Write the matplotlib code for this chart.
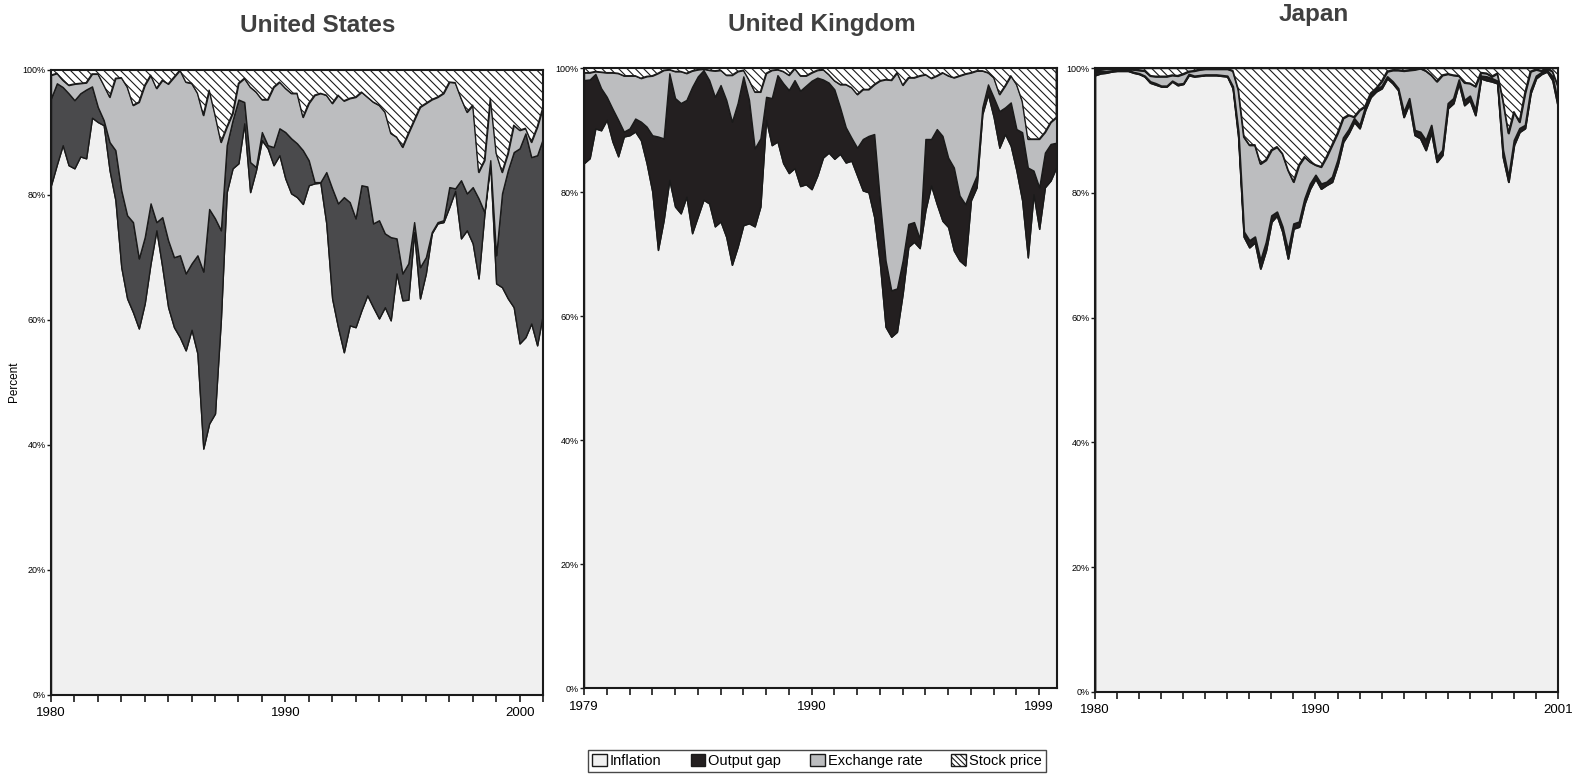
import numpy as np
import matplotlib
matplotlib.use('Agg')
import matplotlib.pyplot as plt
from matplotlib.patches import Patch

plt.rcParams['font.family'] = ['Liberation Sans', 'DejaVu Sans']
plt.rcParams['hatch.linewidth'] = 0.8

NARROW = ['Liberation Sans Narrow', 'Liberation Sans', 'DejaVu Sans']

# quarterly variance shares (percent)
us_inflation = [81.5, 84.8, 87.9, 84.7, 84.2, 86.1, 85.8, 92.3, 91.6, 91.1,
                83.9, 79.1, 68.4, 63.4, 61.2, 58.6, 62.6, 69.0, 74.3, 68.4,
                62.0, 58.8, 57.2, 55.1, 58.4, 54.6, 39.4, 43.4, 45.0, 60.0,
                80.4, 84.2, 85.0, 91.4, 80.4, 83.9, 88.7, 87.4, 84.7, 86.3,
                82.6, 80.2, 79.6, 78.5, 81.5, 81.8, 81.9, 75.4, 63.4, 58.8,
                54.8, 59.1, 58.8, 61.5, 63.9, 62.0, 60.2, 62.0, 59.9, 67.4,
                63.1, 63.2, 74.0, 63.4, 67.4, 73.8, 75.4, 75.6, 78.0, 80.6,
                73.0, 74.3, 72.2, 66.6, 77.0, 85.0, 65.8, 65.2, 63.4, 62.0,
                56.2, 57.2, 59.4, 55.9, 61.0]
us_output_gap = [13.9, 13.0, 9.3, 11.5, 10.9, 10.1, 11.0, 5.0, 2.4, 0.8,
                 4.5, 8.0, 12.3, 13.3, 14.4, 11.2, 10.6, 9.6, 1.3, 8.0,
                 10.7, 11.2, 13.1, 12.3, 10.6, 15.7, 28.3, 34.3, 31.2, 14.3,
                 7.5, 7.7, 10.2, 3.4, 4.8, 0.5, 1.3, 0.5, 2.9, 4.3,
                 7.4, 8.8, 8.6, 8.6, 4.0, 0.2, 0.1, 8.2, 17.6, 19.8,
                 24.8, 19.7, 17.4, 20.0, 17.4, 13.4, 15.7, 11.8, 13.3, 5.6,
                 4.3, 5.8, 1.6, 5.0, 2.6, 0.2, 0.2, 0.3, 3.2, 0.4,
                 9.3, 5.9, 9.0, 12.8, 0.2, 0.5, 4.5, 15.0, 20.5, 24.8,
                 31.2, 32.6, 26.6, 30.4, 28.0]
us_exchange = [3.7, 1.6, 1.1, 1.3, 2.6, 1.6, 1.1, 2.0, 5.3, 5.6,
               7.2, 11.5, 18.0, 20.5, 18.7, 25.0, 24.3, 20.5, 21.4, 21.9,
               25.0, 28.8, 29.6, 30.6, 28.8, 25.9, 25.0, 19.0, 16.5, 14.1,
               2.9, 1.1, 2.6, 3.8, 12.0, 12.0, 5.2, 7.3, 9.6, 7.4,
               7.0, 7.2, 8.0, 5.3, 9.1, 13.9, 14.2, 12.3, 13.6, 17.3,
               15.4, 16.6, 19.4, 14.9, 14.3, 19.4, 18.4, 19.4, 16.6, 16.2,
               20.2, 20.8, 16.3, 25.6, 24.6, 21.2, 20.0, 20.3, 16.8, 16.9,
               13.1, 13.0, 13.1, 4.2, 8.3, 9.9, 16.3, 3.4, 2.7, 4.3,
               2.9, 0.8, 2.4, 4.5, 5.0]
us_stock = [0.9, 0.6, 1.7, 2.5, 2.3, 2.2, 2.1, 0.7, 0.7, 2.5,
            4.4, 1.4, 1.3, 2.8, 5.7, 5.2, 2.5, 0.9, 3.0, 1.7,
            2.3, 1.2, 0.1, 2.0, 2.2, 3.8, 7.3, 3.3, 7.3, 11.6,
            9.2, 7.0, 2.2, 1.4, 2.8, 3.6, 4.8, 4.8, 2.8, 2.0,
            3.0, 3.8, 3.8, 7.6, 5.4, 4.1, 3.8, 4.1, 5.4, 4.1,
            5.0, 4.6, 4.4, 3.6, 4.4, 5.2, 5.7, 6.8, 10.2, 10.8,
            12.4, 10.2, 8.1, 6.0, 5.4, 4.8, 4.4, 3.8, 2.0, 2.1,
            4.6, 6.8, 5.7, 16.4, 14.5, 4.6, 13.4, 16.4, 13.4, 8.9,
            9.7, 9.4, 11.6, 9.2, 6.0]

uk_inflation = [84.7, 85.5, 90.3, 90.0, 91.7, 88.2, 85.8, 89.0, 89.2, 89.8,
                88.4, 84.7, 80.1, 70.7, 75.5, 82.0, 77.7, 76.6, 79.3, 73.4,
                76.1, 78.8, 78.2, 74.5, 75.3, 72.8, 68.3, 71.2, 74.7, 75.0,
                74.5, 77.7, 91.7, 87.6, 88.2, 84.7, 83.1, 83.9, 81.0, 81.3,
                80.5, 82.7, 85.6, 86.4, 85.4, 86.2, 84.8, 85.1, 82.7, 80.3,
                80.0, 76.0, 68.5, 58.3, 56.7, 57.5, 63.6, 71.2, 72.0, 71.0,
                77.1, 81.1, 78.1, 75.4, 74.4, 70.6, 69.0, 68.2, 78.7, 80.8,
                92.6, 95.8, 92.1, 87.2, 89.4, 87.5, 83.5, 78.7, 69.5, 79.7,
                74.1, 80.8, 81.9, 84.0]
uk_output_gap = [13.4, 12.7, 8.8, 6.8, 3.7, 5.3, 5.9, 0.8, 1.1, 2.1,
                 3.0, 5.9, 9.1, 18.3, 13.2, 17.2, 17.5, 17.8, 15.6, 23.6,
                 22.6, 20.9, 19.9, 20.9, 22.0, 22.1, 23.1, 23.2, 24.0, 19.9,
                 12.6, 11.0, 3.7, 7.6, 10.7, 12.9, 13.4, 14.2, 15.4, 15.9,
                 17.5, 15.8, 12.6, 11.3, 11.2, 7.5, 5.7, 3.7, 4.5, 8.3,
                 9.1, 13.4, 10.2, 10.7, 7.5, 7.0, 5.4, 3.7, 3.2, 1.5,
                 11.5, 7.5, 12.1, 13.7, 11.2, 13.4, 10.5, 9.9, 1.8, 1.9,
                 1.1, 1.6, 3.2, 5.9, 4.3, 7.0, 6.7, 11.0, 14.5, 3.8,
                 6.7, 5.6, 5.9, 4.0]
uk_exchange = [1.2, 1.1, 0.4, 2.6, 3.9, 5.8, 7.5, 9.0, 8.5, 6.9,
               7.0, 8.1, 9.6, 10.2, 11.0, 0.6, 4.3, 5.1, 4.3, 2.6,
               1.1, 0.2, 1.6, 4.2, 2.4, 4.0, 7.5, 5.1, 1.0, 3.2,
               9.1, 7.5, 3.8, 4.5, 0.9, 1.9, 2.4, 1.9, 2.4, 1.6,
               1.3, 1.2, 1.6, 1.3, 1.4, 3.7, 6.9, 8.1, 8.6, 8.0,
               7.5, 8.0, 19.3, 29.2, 33.9, 34.8, 28.3, 23.6, 23.3, 26.3,
               10.4, 9.8, 8.6, 10.2, 13.2, 14.5, 19.3, 21.0, 18.8, 16.9,
               5.9, 1.9, 3.2, 2.7, 3.5, 4.3, 7.2, 5.0, 4.6, 5.1,
               7.8, 3.3, 3.5, 4.1]
uk_stock = [0.7, 0.7, 0.5, 0.6, 0.7, 0.7, 0.8, 1.2, 1.2, 1.2,
            1.6, 1.3, 1.2, 0.8, 0.3, 0.2, 0.5, 0.5, 0.8, 0.4,
            0.2, 0.1, 0.3, 0.4, 0.3, 1.1, 1.1, 0.5, 0.3, 1.9,
            3.8, 3.8, 0.8, 0.3, 0.2, 0.5, 1.1, 0.0, 1.2, 1.2,
            0.7, 0.3, 0.2, 1.0, 2.0, 2.6, 2.6, 3.1, 4.2, 3.4,
            3.4, 2.6, 2.0, 1.8, 1.9, 0.7, 2.7, 1.5, 1.5, 1.2,
            1.0, 1.6, 1.2, 0.7, 1.2, 1.5, 1.2, 0.9, 0.7, 0.4,
            0.4, 0.7, 1.5, 4.2, 2.8, 1.2, 2.6, 5.3, 11.4, 11.4,
            11.4, 10.3, 8.7, 7.9]

jp_inflation = [98.9, 99.2, 99.3, 99.5, 99.6, 99.6, 99.6, 99.3, 99.1, 98.7,
                97.7, 97.4, 97.1, 97.1, 97.9, 97.3, 97.5, 98.9, 98.7, 98.8,
                98.9, 98.9, 98.9, 98.8, 98.7, 96.8, 89.0, 73.0, 71.3, 72.1,
                67.9, 70.8, 75.4, 76.4, 73.8, 69.5, 74.3, 74.6, 78.3, 80.7,
                82.3, 80.7, 81.3, 81.8, 84.5, 88.2, 89.6, 91.4, 90.4, 93.3,
                95.4, 96.3, 96.8, 98.4, 97.6, 96.5, 92.2, 94.4, 89.3, 88.8,
                86.9, 89.8, 85.0, 86.1, 93.6, 94.4, 97.6, 94.1, 94.9, 92.5,
                98.4, 98.1, 97.9, 97.6, 85.8, 81.8, 87.7, 89.8, 90.4, 96.0,
                98.4, 99.1, 99.5, 98.1, 93.8]
jp_output_gap = [0.7, 0.3, 0.2, 0.1, 0.1, 0.1, 0.1, 0.1, 0.1, 0.1,
                 0.2, 0.2, 0.1, 0.1, 0.1, 0.2, 0.1, 0.2, 0.1, 0.1,
                 0.1, 0.1, 0.1, 0.1, 0.1, 0.3, 0.8, 0.8, 1.1, 0.9,
                 1.3, 1.3, 1.0, 0.6, 0.8, 1.3, 0.8, 0.8, 0.8, 0.8,
                 0.6, 0.8, 0.5, 0.8, 0.8, 0.7, 0.6, 0.6, 0.5, 0.5,
                 0.4, 0.3, 0.4, 0.3, 0.3, 0.3, 0.8, 0.8, 0.8, 1.0,
                 1.6, 1.1, 0.8, 0.8, 0.8, 0.8, 0.6, 0.8, 0.7, 0.8,
                 0.4, 0.6, 0.5, 0.4, 1.1, 0.8, 0.8, 0.6, 0.5, 0.5,
                 0.4, 0.3, 0.2, 0.6, 0.6]
jp_exchange = [0.2, 0.3, 0.4, 0.3, 0.2, 0.2, 0.2, 0.4, 0.5, 0.8,
               0.9, 1.1, 1.5, 1.5, 0.9, 1.3, 1.5, 0.4, 0.8, 0.9,
               0.9, 0.9, 0.9, 1.0, 1.1, 2.5, 6.7, 15.2, 15.3, 14.7,
               15.5, 13.2, 10.5, 10.4, 11.7, 12.9, 6.7, 9.1, 6.7, 3.5,
               1.6, 2.7, 4.0, 5.1, 4.3, 3.1, 2.3, 0.2, 2.4, 0.1,
               0.2, 0.2, 0.7, 0.8, 1.8, 2.9, 6.6, 4.5, 9.7, 10.2,
               11.1, 8.0, 12.1, 12.0, 4.7, 3.7, 0.6, 2.8, 2.0, 3.8,
               0.5, 0.5, 0.3, 1.2, 8.0, 7.0, 4.5, 1.0, 5.1, 3.0,
               1.0, 0.2, 0.3, 0.8, 2.7]
jp_stock = [0.2, 0.2, 0.1, 0.1, 0.1, 0.1, 0.1, 0.2, 0.3, 0.4,
            1.2, 1.3, 1.3, 1.3, 1.1, 1.2, 0.9, 0.5, 0.4, 0.2,
            0.1, 0.1, 0.1, 0.1, 0.1, 0.4, 3.5, 11.0, 12.3, 12.3,
            15.3, 14.7, 13.1, 12.6, 13.7, 16.3, 18.2, 15.5, 14.2, 15.0,
            15.5, 15.8, 14.2, 12.3, 10.4, 8.0, 7.5, 7.8, 6.7, 6.1,
            4.0, 3.2, 2.1, 0.5, 0.3, 0.3, 0.4, 0.3, 0.2, 0.0,
            0.4, 1.1, 2.1, 1.1, 0.9, 1.1, 1.2, 2.3, 2.4, 2.9,
            0.7, 0.8, 1.3, 0.8, 5.1, 10.4, 7.0, 8.6, 4.0, 0.5,
            0.2, 0.4, 0.0, 0.5, 2.9]

# x axes: quarterly points; UK axis is a category axis with ticks every 4 quarters
us_x = 1980 + np.arange(len(us_inflation)) / 4
uk_x = np.arange(len(uk_inflation)) / 4
jp_x = 1980 + np.arange(len(jp_inflation)) / 4

us_ticks = list(range(1980, 2002))
us_ticklabels = ['1980' if t == 1980 else '1990' if t == 1990 else '2000' if t == 2000 else '' for t in us_ticks]
uk_ticks = list(range(0, 21))
uk_ticklabels = ['1979' if t == 0 else '1990' if t == 10 else '1999' if t == 20 else '' for t in uk_ticks]
jp_ticks = list(range(1980, 2002))
jp_ticklabels = ['1980' if t == 1980 else '1990' if t == 1990 else '2001' if t == 2001 else '' for t in jp_ticks]

C_INFL = '#f0f0f0'
C_GAP_US = '#4a4a4c'
C_GAP = '#231f20'
C_FX = '#bcbdbf'
HATCH = '\\\\\\\\'

fig = plt.figure(figsize=(15.77, 7.75), dpi=100)

W, H = 1577, 775
def add_ax(l, r, t, b):
    return fig.add_axes([l / W, (H - b) / H, (r - l) / W, (b - t) / H])

panels = [
    (add_ax(51, 543, 69.5, 695), us_x, [us_inflation, us_output_gap, us_exchange, us_stock],
     C_GAP_US, (1980, 2001), us_ticks, us_ticklabels, 1.0),
    (add_ax(584, 1056.5, 68.3, 688.3), uk_x, [uk_inflation, uk_output_gap, uk_exchange, uk_stock],
     C_GAP, (0, 20.76), uk_ticks, uk_ticklabels, 1.0),
    (add_ax(1095, 1558, 68.3, 691.7), jp_x, [jp_inflation, jp_output_gap, jp_exchange, jp_stock],
     C_GAP, (1980, 2001), jp_ticks, jp_ticklabels, 1.3),
]

for ax, x, series, gap_color, xlim, ticks, ticklabels, lw in panels:
    polys = ax.stackplot(x, *series, colors=[C_INFL, gap_color, C_FX, 'white'],
                         edgecolor='#1a1a1a', linewidth=lw, zorder=2)
    polys[3].set_hatch(HATCH)
    for yv in (20, 40, 60, 80):
        ax.axhline(yv, color='#1a1a1a', linewidth=1.0, zorder=1)
    ax.set_facecolor(C_INFL)
    ax.set_xlim(*xlim)
    ax.set_ylim(0, 100)
    ax.set_yticks([0, 20, 40, 60, 80, 100])
    ax.set_yticklabels(['0%', '20%', '40%', '60%', '80%', '100%'], fontsize=6.5, family=NARROW)
    ax.set_xticks(ticks)
    ax.set_xticklabels(ticklabels, fontsize=9.5, family=NARROW)
    ax.tick_params(axis='y', length=3, width=1, pad=1, color='#1a1a1a')
    ax.tick_params(axis='x', length=5, width=1.2, pad=4, color='#1a1a1a')
    for s in ax.spines.values():
        s.set_linewidth(1.5)
        s.set_color('#1a1a1a')
        s.set_zorder(5)

fig.text(14 / W, 1 - 382 / H, 'Percent', rotation=90, ha='center', va='center', fontsize=8.5)

fig.text(318 / W, 1 - 25.4 / H, 'United States', ha='center', va='center',
         fontsize=17.5, fontweight='bold', color='#404040')
fig.text(822 / W, 1 - 25 / H, 'United Kingdom', ha='center', va='center',
         fontsize=17.5, fontweight='bold', color='#404040')
fig.text(1314 / W, 1 - 14 / H, 'Japan', ha='center', va='center',
         fontsize=17.5, fontweight='bold', color='#404040')

handles = [Patch(facecolor=C_INFL, edgecolor='#1a1a1a', label='Inflation'),
           Patch(facecolor=C_GAP, edgecolor='#1a1a1a', label='Output gap'),
           Patch(facecolor=C_FX, edgecolor='#1a1a1a', label='Exchange rate'),
           Patch(facecolor='white', edgecolor='#1a1a1a', hatch='\\\\\\\\\\\\', label='Stock price')]
leg = fig.legend(handles=handles, loc='center', bbox_to_anchor=(817 / W, 1 - 761 / H),
                 ncol=4, fontsize=10.5, frameon=True, fancybox=False, edgecolor='#1a1a1a',
                 handlelength=1.0, handleheight=0.9, handletextpad=0.2, columnspacing=2.0,
                 borderpad=0.3, borderaxespad=0)
leg.get_frame().set_linewidth(1.0)

fig.savefig('out.png', dpi=100)
